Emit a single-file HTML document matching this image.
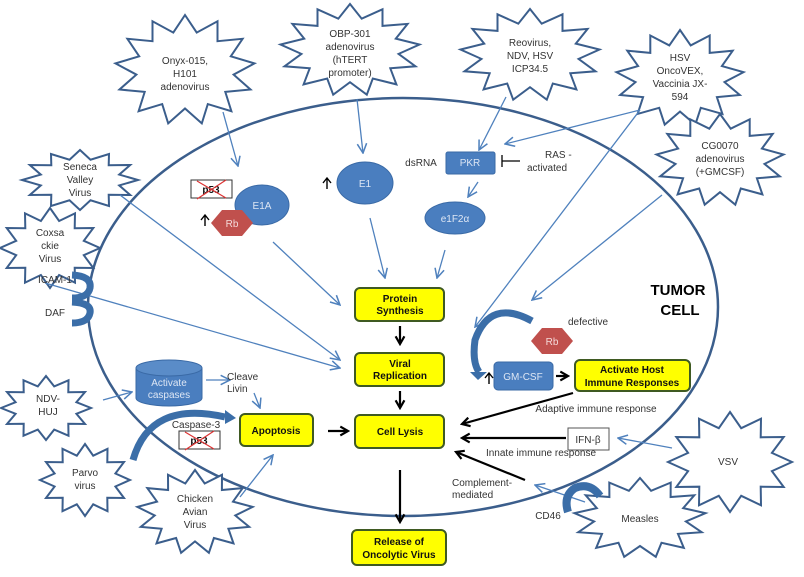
<!DOCTYPE html>
<html><head><meta charset="utf-8"><style>
body{margin:0;background:#fff;width:804px;height:577px;overflow:hidden}
svg{display:block;font-family:"Liberation Sans",sans-serif}
.t{font-size:10px;fill:#333;text-anchor:middle}
.b{font-size:10px;font-weight:bold;fill:#111;text-anchor:middle}
.w{font-size:10px;fill:#dde6f4;text-anchor:middle}
.bl{stroke:#4f81bd;stroke-width:1.3;fill:none}
.k{stroke:#000;stroke-width:2.2;fill:none}
.y{fill:#ffff00;stroke:#3f5a22;stroke-width:2}
</style></head><body>
<svg id="s" width="804" height="577" viewBox="0 0 804 577" xmlns="http://www.w3.org/2000/svg">
<defs>
<marker id="ab" viewBox="0 0 10 10" refX="9" refY="5" markerWidth="9" markerHeight="9" orient="auto"><path d="M1,1 L9,5 L1,9" fill="none" stroke="#4f81bd" stroke-width="1.3"/></marker>
<marker id="ak" viewBox="0 0 10 10" refX="8" refY="5" markerWidth="5" markerHeight="5" orient="auto"><path d="M1,1 L8,5 L1,9" fill="none" stroke="#000" stroke-width="2"/></marker>
</defs>
<ellipse cx="403" cy="307" rx="315" ry="209" fill="none" stroke="#3b5e8c" stroke-width="2.5"/>
<g id="stars"></g>
<text class="t" x="185" y="64">Onyx-015,</text><text class="t" x="185" y="77">H101</text><text class="t" x="185" y="90">adenovirus</text>
<text class="t" x="350" y="37">OBP-301</text><text class="t" x="350" y="50">adenovirus</text><text class="t" x="350" y="63">(hTERT</text><text class="t" x="350" y="76">promoter)</text>
<text class="t" x="530" y="46">Reovirus,</text><text class="t" x="530" y="59">NDV, HSV</text><text class="t" x="530" y="72">ICP34.5</text>
<text class="t" x="680" y="61">HSV</text><text class="t" x="680" y="74">OncoVEX,</text><text class="t" x="680" y="87">Vaccinia JX-</text><text class="t" x="680" y="100">594</text>
<text class="t" x="720" y="149">CG0070</text><text class="t" x="720" y="162">adenovirus</text><text class="t" x="720" y="175">(+GMCSF)</text>
<text class="t" x="80" y="170">Seneca</text><text class="t" x="80" y="183">Valley</text><text class="t" x="80" y="196">Virus</text>
<text class="t" x="50" y="236">Coxsa</text><text class="t" x="50" y="249">ckie</text><text class="t" x="50" y="262">Virus</text>
<text class="t" x="48" y="402">NDV-</text><text class="t" x="48" y="415">HUJ</text>
<text class="t" x="85" y="476">Parvo</text><text class="t" x="85" y="489">virus</text>
<text class="t" x="195" y="502">Chicken</text><text class="t" x="195" y="515">Avian</text><text class="t" x="195" y="528">Virus</text>
<text class="t" x="728" y="465">VSV</text>
<text class="t" x="640" y="522">Measles</text>
<line class="bl" x1="223" y1="112" x2="238" y2="166" marker-end="url(#ab)"/>
<line class="bl" x1="357" y1="99" x2="363" y2="153" marker-end="url(#ab)"/>
<line class="bl" x1="506" y1="97" x2="479" y2="150" marker-end="url(#ab)"/>
<line class="bl" x1="478" y1="182" x2="468" y2="197" marker-end="url(#ab)"/>
<line class="bl" x1="445" y1="250" x2="437" y2="278" marker-end="url(#ab)"/>
<line class="bl" x1="370" y1="218" x2="385" y2="278" marker-end="url(#ab)"/>
<line class="bl" x1="273" y1="242" x2="340" y2="305" marker-end="url(#ab)"/>
<line class="bl" x1="120" y1="195" x2="340" y2="360" marker-end="url(#ab)"/>
<line class="bl" x1="45" y1="283" x2="340" y2="368" marker-end="url(#ab)"/>
<line class="bl" x1="640" y1="110" x2="505" y2="144" marker-end="url(#ab)"/>
<line class="bl" x1="640" y1="110" x2="475" y2="327" marker-end="url(#ab)"/>
<line class="bl" x1="662" y1="195" x2="532" y2="300" marker-end="url(#ab)"/>
<line class="bl" x1="103" y1="400" x2="132" y2="392" marker-end="url(#ab)"/>
<line class="bl" x1="206" y1="380" x2="230" y2="380" marker-end="url(#ab)"/>
<line class="bl" x1="254" y1="393" x2="260" y2="408" marker-end="url(#ab)"/>
<line class="bl" x1="240" y1="497" x2="273" y2="455" marker-end="url(#ab)"/>
<line class="bl" x1="672" y1="448" x2="618" y2="438" marker-end="url(#ab)"/>
<line class="bl" x1="585" y1="502" x2="535" y2="485" marker-end="url(#ab)"/>
<line x1="520" y1="161" x2="502" y2="161" stroke="#000" stroke-width="1.3"/><line x1="502" y1="155" x2="502" y2="167" stroke="#000" stroke-width="1.3"/>
<path d="M72,275 Q92,276 90,288 Q88,298 72,298" fill="none" stroke="#3b6ea8" stroke-width="7"/>
<path d="M72,302 Q92,303 90,313 Q88,323 72,323" fill="none" stroke="#3b6ea8" stroke-width="7"/>
<path d="M600,496 Q590,482 575,488 Q563,496 568,512" fill="none" stroke="#3b6ea8" stroke-width="8"/>
<path d="M133,460 Q150,400 225,417" fill="none" stroke="#3b6ea8" stroke-width="7"/>
<path d="M225,410 L236,418 L225,424 Z" fill="#3b6ea8"/>
<path d="M532,321 Q490,298 475,340 Q472,362 479,372" fill="none" stroke="#3b6ea8" stroke-width="7"/>
<path d="M470,372 L487,372 L478,380 Z" fill="#3b6ea8"/>
<rect class="y" x="355" y="288" width="89" height="33" rx="5"/><text class="b" x="400" y="302">Protein</text><text class="b" x="400" y="314">Synthesis</text>
<rect class="y" x="355" y="353" width="89" height="33" rx="5"/><text class="b" x="400" y="367">Viral</text><text class="b" x="400" y="379">Replication</text>
<rect class="y" x="355" y="415" width="89" height="33" rx="5"/><text class="b" x="400" y="435">Cell Lysis</text>
<rect class="y" x="352" y="530" width="94" height="35" rx="5"/><text class="b" x="399" y="545">Release of</text><text class="b" x="399" y="558">Oncolytic Virus</text>
<rect class="y" x="240" y="414" width="73" height="32" rx="5"/><text class="b" x="276" y="434">Apoptosis</text>
<rect class="y" x="575" y="360" width="115" height="31" rx="5"/><text class="b" x="632" y="373">Activate Host</text><text class="b" x="632" y="386">Immune Responses</text>
<line class="k" x1="400" y1="326" x2="400" y2="344" marker-end="url(#ak)"/>
<line class="k" x1="400" y1="391" x2="400" y2="408" marker-end="url(#ak)"/>
<line class="k" x1="400" y1="470" x2="400" y2="522" marker-end="url(#ak)"/>
<line class="k" x1="328" y1="431" x2="348" y2="431" marker-end="url(#ak)"/>
<line class="k" x1="556" y1="376" x2="568" y2="376" marker-end="url(#ak)"/>
<line class="k" x1="573" y1="393" x2="462" y2="424" marker-end="url(#ak)"/>
<line class="k" x1="566" y1="438" x2="462" y2="438" marker-end="url(#ak)"/>
<line class="k" x1="525" y1="480" x2="456" y2="452" marker-end="url(#ak)"/>
<g stroke="#000" stroke-width="1.4" fill="none"><path d="M205,226 V216 M201,220 L205,215 L209,220"/><path d="M327,189 V179 M323,183 L327,178 L331,183"/><path d="M489,384 V374 M485,378 L489,373 L493,378"/></g>
<ellipse cx="262" cy="205" rx="27" ry="20" fill="#4a7ebf" stroke="#3a6aa6"/><text class="w" x="262" y="209">E1A</text>
<ellipse cx="365" cy="183" rx="28" ry="21" fill="#4a7ebf" stroke="#3a6aa6"/><text class="w" x="365" y="187">E1</text>
<ellipse cx="455" cy="218" rx="30" ry="16" fill="#4a7ebf" stroke="#3a6aa6"/><text class="w" x="455" y="222">e1F2α</text>
<rect x="446" y="152" width="49" height="22" rx="2" fill="#4a7ebf" stroke="#3a6aa6"/><text class="w" x="470" y="166">PKR</text>
<rect x="494" y="362" width="59" height="28" rx="4" fill="#4a7ebf" stroke="#3a6aa6"/><text class="w" x="523" y="380">GM-CSF</text>
<path d="M136,368 V398 A33,8 0 0 0 202,398 V368" fill="#4a7ebf" stroke="#3a6aa6"/>
<ellipse cx="169" cy="368" rx="33" ry="8" fill="#5a8cc8" stroke="#3a6aa6"/>
<text class="w" x="169" y="386">Activate</text><text class="w" x="169" y="398">caspases</text>
<polygon points="211,223 222,210 242,210 253,223 242,236 222,236" fill="#c0504d"/><text class="w" x="232" y="227" style="fill:#f4dada">Rb</text>
<polygon points="531,341 542,328 562,328 573,341 562,354 542,354" fill="#c0504d"/><text class="w" x="552" y="345" style="fill:#f4dada">Rb</text>
<rect x="191" y="180" width="41" height="18" fill="#fff" stroke="#333"/><text class="b" x="211" y="193">p53</text>
<line x1="197" y1="181" x2="226" y2="198" stroke="#d33" stroke-width="1.2"/><line x1="226" y1="180" x2="197" y2="199" stroke="#d33" stroke-width="1.2"/>
<rect x="179" y="431" width="41" height="18" fill="#fff" stroke="#333"/><text class="b" x="199" y="444">p53</text>
<line x1="185" y1="432" x2="214" y2="449" stroke="#d33" stroke-width="1.2"/><line x1="214" y1="431" x2="185" y2="450" stroke="#d33" stroke-width="1.2"/>
<rect x="568" y="428" width="41" height="22" fill="#fff" stroke="#555"/><text class="t" x="588" y="443">IFN-β</text>
<text class="t" x="421" y="166">dsRNA</text>
<text class="t" x="545" y="158" style="text-anchor:start">RAS -</text><text class="t" x="527" y="171" style="text-anchor:start">activated</text>
<text class="t" x="568" y="325" style="text-anchor:start">defective</text>
<text class="t" x="227" y="380" style="text-anchor:start">Cleave</text><text class="t" x="227" y="392" style="text-anchor:start">Livin</text>
<text class="t" x="196" y="428">Caspase-3</text>
<text class="t" x="596" y="412">Adaptive immune response</text>
<text class="t" x="541" y="456">Innate immune response</text>
<text class="t" x="452" y="486" style="text-anchor:start">Complement-</text><text class="t" x="452" y="498" style="text-anchor:start">mediated</text>
<text class="t" x="548" y="519">CD46</text>
<text class="t" x="55" y="283">ICAM-1</text><text class="t" x="55" y="316">DAF</text>
<text x="678" y="295" style="font-size:15px;font-weight:bold;text-anchor:middle">TUMOR</text>
<text x="680" y="315" style="font-size:15px;font-weight:bold;text-anchor:middle">CELL</text>
</svg>
<script>
var st=[[185,70,70,55,13],[350,50,70,46,13],[530,55,70,46,13],[680,78,64,48,13],[720,160,64,46,13],[80,180,58,30,12],[50,248,50,40,12],[46,408,45,32,12],[85,480,45,36,12],[195,512,58,42,13],[730,462,62,50,12],[640,518,66,40,13]];
var g=document.getElementById('stars'),h='';
st.forEach(function(s){var p=[],n=s[4];for(var i=0;i<2*n;i++){var a=Math.PI*i/n-Math.PI/2,r=i%2?0.7:1;p.push((s[0]+s[2]*r*Math.cos(a)).toFixed(1)+','+(s[1]+s[3]*r*Math.sin(a)).toFixed(1));}
h+='<polygon points="'+p.join(' ')+'" fill="#fff" stroke="#3b5e8c" stroke-width="2"/>';});
g.innerHTML=h;
</script>
</body></html>
